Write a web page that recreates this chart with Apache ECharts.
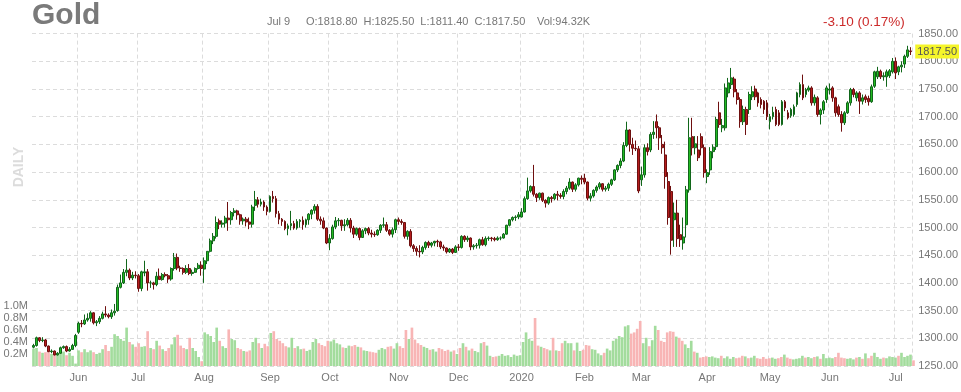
<!DOCTYPE html>
<html><head><meta charset="utf-8">
<script src="https://cdn.jsdelivr.net/npm/echarts@6/dist/echarts.min.js"></script>
<style>html,body{margin:0;padding:0;background:#fff}#c{width:961px;height:392px}</style>
</head><body><div id="c"></div>
<script>
const dates = [
'2019-05-10','2019-05-13','2019-05-14','2019-05-15','2019-05-16','2019-05-17','2019-05-20','2019-05-21','2019-05-22','2019-05-23','2019-05-24','2019-05-28','2019-05-29','2019-05-30','2019-05-31',
'2019-06-03','2019-06-04','2019-06-05','2019-06-06','2019-06-07','2019-06-10','2019-06-11','2019-06-12','2019-06-13','2019-06-14','2019-06-17','2019-06-18','2019-06-19','2019-06-20','2019-06-21','2019-06-24','2019-06-25','2019-06-26','2019-06-27','2019-06-28',
'2019-07-01','2019-07-02','2019-07-03','2019-07-05','2019-07-08','2019-07-09','2019-07-10','2019-07-11','2019-07-12','2019-07-15','2019-07-16','2019-07-17','2019-07-18','2019-07-19','2019-07-22','2019-07-23','2019-07-24','2019-07-25','2019-07-26','2019-07-29','2019-07-30','2019-07-31',
'2019-08-01','2019-08-02','2019-08-05','2019-08-06','2019-08-07','2019-08-08','2019-08-09','2019-08-12','2019-08-13','2019-08-14','2019-08-15','2019-08-16','2019-08-19','2019-08-20','2019-08-21','2019-08-22','2019-08-23','2019-08-26','2019-08-27','2019-08-28','2019-08-29','2019-08-30',
'2019-09-03','2019-09-04','2019-09-05','2019-09-06','2019-09-09','2019-09-10','2019-09-11','2019-09-12','2019-09-13','2019-09-16','2019-09-17','2019-09-18','2019-09-19','2019-09-20','2019-09-23','2019-09-24','2019-09-25','2019-09-26','2019-09-27','2019-09-30',
'2019-10-01','2019-10-02','2019-10-03','2019-10-04','2019-10-07','2019-10-08','2019-10-09','2019-10-10','2019-10-11','2019-10-14','2019-10-15','2019-10-16','2019-10-17','2019-10-18','2019-10-21','2019-10-22','2019-10-23','2019-10-24','2019-10-25','2019-10-28','2019-10-29','2019-10-30','2019-10-31',
'2019-11-01','2019-11-04','2019-11-05','2019-11-06','2019-11-07','2019-11-08','2019-11-11','2019-11-12','2019-11-13','2019-11-14','2019-11-15','2019-11-18','2019-11-19','2019-11-20','2019-11-21','2019-11-22','2019-11-25','2019-11-26','2019-11-27','2019-11-29',
'2019-12-02','2019-12-03','2019-12-04','2019-12-05','2019-12-06','2019-12-09','2019-12-10','2019-12-11','2019-12-12','2019-12-13','2019-12-16','2019-12-17','2019-12-18','2019-12-19','2019-12-20','2019-12-23','2019-12-24','2019-12-26','2019-12-27','2019-12-30','2019-12-31',
'2020-01-02','2020-01-03','2020-01-06','2020-01-07','2020-01-08','2020-01-09','2020-01-10','2020-01-13','2020-01-14','2020-01-15','2020-01-16','2020-01-17','2020-01-21','2020-01-22','2020-01-23','2020-01-24','2020-01-27','2020-01-28','2020-01-29','2020-01-30','2020-01-31',
'2020-02-03','2020-02-04','2020-02-05','2020-02-06','2020-02-07','2020-02-10','2020-02-11','2020-02-12','2020-02-13','2020-02-14','2020-02-18','2020-02-19','2020-02-20','2020-02-21','2020-02-24','2020-02-25','2020-02-26','2020-02-27','2020-02-28',
'2020-03-02','2020-03-03','2020-03-04','2020-03-05','2020-03-06','2020-03-09','2020-03-10','2020-03-11','2020-03-12','2020-03-13','2020-03-16','2020-03-17','2020-03-18','2020-03-19','2020-03-20','2020-03-23','2020-03-24','2020-03-25','2020-03-26','2020-03-27','2020-03-30','2020-03-31',
'2020-04-01','2020-04-02','2020-04-03','2020-04-06','2020-04-07','2020-04-08','2020-04-09','2020-04-13','2020-04-14','2020-04-15','2020-04-16','2020-04-17','2020-04-20','2020-04-21','2020-04-22','2020-04-23','2020-04-24','2020-04-27','2020-04-28','2020-04-29','2020-04-30',
'2020-05-01','2020-05-04','2020-05-05','2020-05-06','2020-05-07','2020-05-08','2020-05-11','2020-05-12','2020-05-13','2020-05-14','2020-05-15','2020-05-18','2020-05-19','2020-05-20','2020-05-21','2020-05-22','2020-05-26','2020-05-27','2020-05-28','2020-05-29',
'2020-06-01','2020-06-02','2020-06-03','2020-06-04','2020-06-05','2020-06-08','2020-06-09','2020-06-10','2020-06-11','2020-06-12','2020-06-15','2020-06-16','2020-06-17','2020-06-18','2020-06-19','2020-06-22','2020-06-23','2020-06-24','2020-06-25','2020-06-26','2020-06-29','2020-06-30',
'2020-07-01','2020-07-02','2020-07-06','2020-07-07','2020-07-08','2020-07-09'
];

// [open, high, low, close]
const ohlc = [
// May 2019
[1284,1290,1282,1287],[1287,1303,1285,1301],[1301,1302,1293,1296],[1296,1302,1293,1297],[1297,1299,1284,1286],[1286,1287,1275,1276],[1276,1280,1273,1277],[1277,1278,1269,1270],[1270,1275,1269,1273],[1273,1285,1272,1283],[1283,1287,1281,1285],[1285,1287,1275,1277],[1277,1284,1276,1280],[1280,1290,1279,1287],[1287,1308,1284,1305],
// Jun 2019
[1311,1330,1308,1327],[1327,1333,1320,1326],[1326,1343,1324,1333],[1333,1345,1330,1336],[1336,1349,1330,1346],[1346,1347,1325,1328],[1328,1333,1322,1330],[1330,1340,1326,1336],[1336,1348,1334,1344],[1344,1358,1338,1342],[1342,1345,1336,1339],[1339,1352,1335,1346],[1346,1362,1341,1349],[1350,1397,1348,1392],[1392,1415,1390,1400],[1400,1425,1398,1419],[1419,1443,1412,1423],[1423,1426,1405,1409],[1409,1420,1405,1414],[1414,1421,1408,1413],
// Jul 2019
[1413,1416,1384,1390],[1390,1422,1385,1420],[1418,1440,1412,1420],[1420,1425,1386,1400],[1400,1404,1391,1400],[1400,1402,1388,1397],[1397,1420,1394,1412],[1412,1426,1406,1406],[1406,1418,1404,1415],[1415,1419,1410,1413],[1413,1416,1400,1407],[1407,1428,1404,1426],[1426,1454,1422,1446],[1446,1453,1423,1427],[1427,1431,1420,1426],[1426,1428,1415,1419],[1419,1432,1416,1426],[1426,1434,1414,1417],[1417,1424,1413,1419],[1419,1428,1418,1426],[1426,1436,1424,1432],[1432,1439,1413,1426],
// Aug 2019
[1425,1446,1400,1440],[1440,1457,1434,1457],[1457,1480,1455,1476],[1476,1490,1470,1484],[1484,1520,1480,1509],[1512,1516,1497,1506],[1506,1513,1500,1508],[1508,1521,1500,1517],[1517,1546,1494,1514],[1514,1530,1505,1527],[1527,1535,1520,1530],[1530,1532,1514,1523],[1523,1525,1505,1512],[1512,1518,1505,1515],[1515,1519,1502,1510],[1510,1518,1497,1506],[1506,1541,1500,1537],[1540,1566,1530,1550],[1550,1555,1536,1542],[1542,1552,1538,1546],[1546,1549,1530,1537],[1537,1540,1522,1529],
// Sep 2019
[1529,1558,1527,1556],[1556,1566,1545,1552],[1552,1557,1518,1525],[1525,1530,1506,1515],[1515,1517,1503,1511],[1511,1513,1495,1498],[1498,1507,1486,1503],[1503,1530,1495,1507],[1507,1512,1496,1499],[1499,1515,1496,1511],[1511,1515,1500,1513],[1513,1520,1496,1505],[1505,1516,1500,1514],[1514,1526,1505,1524],[1524,1533,1515,1531],[1531,1542,1525,1538],[1538,1542,1512,1515],[1515,1520,1505,1512],[1512,1518,1497,1499],[1499,1500,1470,1472],
// Oct 2019
[1472,1488,1459,1480],[1480,1505,1478,1501],[1501,1519,1497,1512],[1512,1517,1503,1513],[1513,1514,1494,1503],[1503,1515,1494,1505],[1505,1517,1502,1513],[1513,1517,1491,1499],[1499,1503,1481,1488],[1488,1500,1485,1498],[1498,1500,1477,1482],[1482,1497,1481,1494],[1494,1500,1488,1498],[1498,1501,1486,1490],[1490,1496,1482,1488],[1488,1493,1483,1487],[1487,1497,1485,1495],[1495,1506,1490,1504],[1504,1518,1500,1505],[1505,1510,1492,1495],[1495,1497,1485,1488],[1488,1500,1482,1496],[1496,1516,1490,1514],
// Nov 2019
[1514,1518,1505,1511],[1511,1515,1505,1509],[1509,1510,1480,1484],[1484,1495,1478,1493],[1493,1497,1464,1467],[1467,1470,1456,1462],[1462,1466,1449,1457],[1457,1468,1446,1456],[1456,1467,1452,1464],[1464,1475,1460,1473],[1473,1476,1463,1468],[1468,1474,1464,1472],[1472,1476,1466,1475],[1475,1478,1465,1474],[1474,1476,1461,1465],[1465,1469,1458,1463],[1463,1464,1453,1456],[1456,1463,1454,1461],[1461,1463,1452,1455],[1455,1468,1454,1465],
// Dec 2019
[1465,1470,1458,1464],[1464,1486,1462,1484],[1484,1486,1474,1478],[1478,1485,1474,1481],[1481,1482,1459,1465],[1465,1470,1460,1467],[1467,1472,1462,1468],[1468,1480,1462,1478],[1478,1483,1467,1469],[1469,1484,1466,1480],[1480,1484,1476,1481],[1481,1483,1475,1480],[1480,1483,1475,1478],[1478,1484,1476,1481],[1481,1484,1477,1481],[1481,1490,1480,1488],[1488,1505,1487,1504],[1504,1515,1502,1514],[1514,1520,1511,1518],[1518,1522,1512,1519],[1519,1528,1515,1523],
// Jan 2020
[1519,1535,1518,1528],[1528,1556,1527,1552],[1552,1590,1550,1566],[1566,1576,1563,1574],[1574,1613,1556,1560],[1560,1562,1546,1554],[1554,1563,1550,1562],[1562,1563,1546,1549],[1549,1551,1536,1544],[1544,1556,1541,1554],[1554,1557,1545,1552],[1552,1562,1549,1560],[1560,1566,1549,1558],[1558,1562,1552,1556],[1556,1569,1551,1565],[1565,1575,1560,1571],[1571,1589,1568,1582],[1582,1583,1564,1569],[1569,1580,1565,1577],[1577,1590,1574,1589],[1589,1594,1578,1587],
// Feb 2020
[1589,1597,1578,1582],[1582,1583,1549,1553],[1553,1562,1547,1557],[1557,1569,1554,1567],[1567,1576,1563,1573],[1573,1582,1569,1579],[1579,1580,1565,1569],[1569,1575,1565,1571],[1571,1581,1566,1578],[1578,1588,1575,1586],[1586,1605,1584,1604],[1604,1614,1600,1612],[1612,1625,1607,1620],[1620,1654,1618,1648],[1648,1691,1645,1676],[1676,1677,1637,1650],[1650,1662,1631,1643],[1643,1657,1638,1642],[1642,1647,1562,1566],
// Mar 2020
[1586,1610,1575,1595],[1595,1650,1590,1644],[1644,1652,1630,1637],[1640,1672,1636,1668],[1668,1692,1660,1672],[1691,1704,1661,1680],[1680,1683,1640,1662],[1650,1667,1633,1644],[1631,1655,1570,1592],[1583,1600,1505,1518],[1565,1575,1451,1477],[1514,1545,1465,1526],[1526,1550,1465,1480],[1487,1505,1465,1478],[1472,1518,1460,1483],[1505,1575,1482,1568],[1568,1698,1563,1662],[1664,1698,1630,1644],[1644,1665,1632,1651],[1640,1665,1620,1626],[1664,1670,1630,1644],[1644,1650,1590,1599],
// Apr 2020
[1592,1605,1580,1599],[1604,1645,1595,1637],[1637,1650,1625,1645],[1646,1700,1640,1695],[1707,1727,1680,1686],[1680,1696,1672,1684],[1680,1760,1675,1752],[1743,1770,1735,1761],[1758,1788,1750,1770],[1768,1772,1735,1745],[1743,1750,1722,1731],[1731,1735,1680,1691],[1691,1720,1685,1713],[1713,1718,1667,1686],[1713,1745,1705,1740],[1736,1755,1730,1745],[1750,1756,1730,1736],[1743,1745,1718,1725],[1731,1735,1715,1722],[1728,1730,1705,1713],[1725,1730,1694,1700],
// May 2020
[1691,1705,1677,1700],[1700,1718,1695,1708],[1713,1718,1683,1686],[1707,1712,1683,1686],[1686,1730,1684,1727],[1727,1730,1710,1716],[1707,1712,1695,1698],[1702,1716,1698,1713],[1704,1722,1700,1718],[1722,1745,1718,1743],[1740,1762,1735,1758],[1758,1776,1730,1734],[1740,1752,1735,1749],[1748,1756,1745,1752],[1752,1755,1720,1725],[1725,1740,1720,1735],[1734,1737,1700,1704],[1704,1715,1686,1712],[1712,1730,1705,1727],[1731,1756,1725,1752],
// Jun 2020
[1748,1760,1740,1750],[1752,1755,1727,1734],[1734,1736,1700,1707],[1718,1722,1700,1704],[1704,1710,1673,1689],[1689,1710,1685,1707],[1707,1728,1705,1725],[1725,1752,1720,1749],[1749,1752,1735,1740],[1734,1746,1728,1743],[1743,1746,1705,1728],[1728,1740,1722,1734],[1736,1740,1725,1731],[1733,1738,1720,1727],[1727,1758,1725,1754],[1755,1783,1752,1781],[1772,1790,1768,1782],[1782,1785,1768,1772],[1772,1780,1765,1774],[1772,1785,1754,1781],[1774,1786,1770,1783],[1781,1806,1778,1800],
// Jul 2020
[1800,1807,1768,1779],[1781,1792,1775,1790],[1790,1800,1780,1793],[1795,1812,1788,1809],[1809,1828,1806,1820.6],[1818.8,1825.5,1811.4,1817.5]
];

// volume in thousands
const volume = [
// May 2019
290,300,240,220,230,270,200,210,190,250,240,180,220,170,40,
// Jun
260,230,280,230,260,230,200,220,280,350,250,320,530,500,450,420,640,400,360,320,
// Jul
380,320,330,580,300,280,420,340,280,250,300,360,480,520,340,300,280,470,300,250,150,80,
// Aug
560,530,500,400,640,420,330,300,610,450,430,300,280,250,240,260,400,470,380,300,370,330,
// Sep
550,580,450,420,380,330,310,470,300,330,280,290,250,270,400,450,380,350,330,420,
// Oct
410,440,380,360,310,300,340,330,350,320,310,260,250,240,230,220,270,300,280,320,330,290,380,
// Nov
330,300,600,450,640,440,380,350,320,300,270,280,240,300,280,250,270,240,260,200,
// Dec
300,380,320,260,290,250,230,380,400,340,170,150,160,170,200,170,180,150,190,170,180,
// Jan 2020
400,560,450,420,800,340,320,300,280,260,470,260,250,380,420,380,380,260,390,250,270,
// Feb
350,340,280,270,210,180,220,290,260,420,450,500,480,660,680,540,560,620,750,
// Mar
380,470,330,430,670,600,420,400,560,580,570,490,470,420,360,300,420,240,220,140,150,160,
// Apr
150,160,140,130,170,130,160,120,150,130,140,170,160,130,140,170,130,120,150,120,130,
// May
140,120,130,150,190,140,120,110,120,130,170,140,150,130,150,160,120,200,130,140,
// Jun
130,150,220,140,130,120,130,110,140,150,120,210,130,170,220,150,120,140,130,160,150,140,
// Jul
170,220,150,170,190,94.32
];

const priceTicks = {min:1250, max:1850, step:50};
const volTicks = {min:0, max:1200, step:200};
const monthNames = ['Jan','Feb','Mar','Apr','May','Jun','Jul','Aug','Sep','Oct','Nov','Dec'];

const FONT = 'Liberation Sans, Arial, Helvetica, sans-serif';
const GRID_COLOR = '#dcdcdc';

function isMonthStart(i){
  if(i<=0) return false;
  return dates[i].slice(0,7) !== dates[i-1].slice(0,7);
}
function monthLabel(v){
  const y = v.slice(0,4), m = +v.slice(5,7);
  return m===1 ? y : monthNames[m-1];
}

const candleData = ohlc.map(r => [r[0], r[3], r[2], r[1]]);
const volData = volume.map((v,i) => ({
  value: v,
  itemStyle: {color: ohlc[i][3] >= ohlc[i][0] ? '#a3dc9d' : '#f8b5b5'}
}));

const last = ohlc[ohlc.length-1], prev = ohlc[ohlc.length-2];
const chg = last[3]-prev[3];
const pct = Math.abs(chg)/prev[3]*100;
const lastDate = dates[dates.length-1];
const hdrDate = monthNames[+lastDate.slice(5,7)-1] + ' ' + (+lastDate.slice(8,10));
const hdrOHLC = 'O:'+last[0].toFixed(2)+'  H:'+last[1].toFixed(2)+'  L:'+last[2].toFixed(2)+'  C:'+last[3].toFixed(2);
const hdrVol = 'Vol:'+volume[volume.length-1].toFixed(2)+'K';
const hdrChg = (chg<0?'-':'+')+Math.abs(chg).toFixed(2)+' ('+pct.toFixed(2)+'%)';

const chart = echarts.init(document.getElementById('c'), null, {renderer:'canvas'});
chart.setOption({
  animation:false,
  backgroundColor:'#fff',
  textStyle:{fontFamily:FONT},
  graphic:[
    {type:'text', left:32, top:1, style:{text:'Gold', font:'bold 30px '+FONT, fill:'#7a7a7a'}},
    {type:'text', x:267, y:22, style:{text:hdrDate, font:'11px '+FONT, fill:'#777', textVerticalAlign:'middle'}},
    {type:'text', x:306, y:22, style:{text:hdrOHLC, font:'11px '+FONT, fill:'#777', textVerticalAlign:'middle'}},
    {type:'text', x:537, y:22, style:{text:hdrVol, font:'11px '+FONT, fill:'#777', textVerticalAlign:'middle'}},
    {type:'text', x:823, y:22, style:{text:hdrChg, font:'13.5px '+FONT, fill:'#cc2a2a', textVerticalAlign:'middle'}},
    {type:'text', x:19, y:167, rotation:Math.PI/2, style:{text:'DAILY', font:'bold 14px '+FONT, fill:'#dcdcdc', textAlign:'center', textVerticalAlign:'middle'}}
  ],
  grid:[
    {left:32, right:46, top:33.6, bottom:26},
    {left:32, right:46, top:294, bottom:26}
  ],
  xAxis:[
    {type:'category', gridIndex:0, data:dates, boundaryGap:true,
     axisLine:{show:false}, axisTick:{show:false},
     axisLabel:{interval:(i)=>isMonthStart(i), formatter:monthLabel, color:'#777', fontSize:11, margin:6, fontFamily:FONT},
     splitLine:{show:true, interval:(i)=>isMonthStart(i), lineStyle:{color:GRID_COLOR, type:[4,3], width:1}}},
    {type:'category', gridIndex:1, data:dates, boundaryGap:true, show:false}
  ],
  yAxis:[
    {type:'value', gridIndex:0, position:'right', min:priceTicks.min, max:priceTicks.max, interval:priceTicks.step,
     axisLine:{show:false}, axisTick:{show:false},
     axisLabel:{formatter:(v)=>v.toFixed(2), color:'#777', fontSize:11, margin:6, fontFamily:FONT},
     splitLine:{show:true, lineStyle:{color:GRID_COLOR, type:[4,3], width:1}}},
    {type:'value', gridIndex:1, position:'left', min:volTicks.min, max:volTicks.max, interval:volTicks.step,
     axisLine:{show:false}, axisTick:{show:false}, splitLine:{show:false},
     axisLabel:{formatter:(v)=> (v<=0||v>1000)?'':(v/1000).toFixed(1)+'M', color:'#777', fontSize:11, margin:4, fontFamily:FONT}}
  ],
  series:[
    {type:'bar', xAxisIndex:1, yAxisIndex:1, data:volData, barCategoryGap:'12%', z:1, silent:true},
    {type:'candlestick', xAxisIndex:0, yAxisIndex:0, data:candleData, barWidth:2.4, z:3,
     itemStyle:{color:'#22bb22', color0:'#b51d1d', borderColor:'#11661a', borderColor0:'#6e0f0f', borderWidth:1},
     markLine:{silent:true, symbol:'none', animation:false,
       data:[{yAxis:last[3]}],
       lineStyle:{width:0, color:'rgba(0,0,0,0)'},
       label:{show:true, position:'end', distance:3, formatter:()=>last[3].toFixed(2), backgroundColor:'#f5f52a', color:'#555', fontSize:11, padding:[2,2,1,2], fontFamily:FONT}}}
  ]
});
</script>
</body></html>
